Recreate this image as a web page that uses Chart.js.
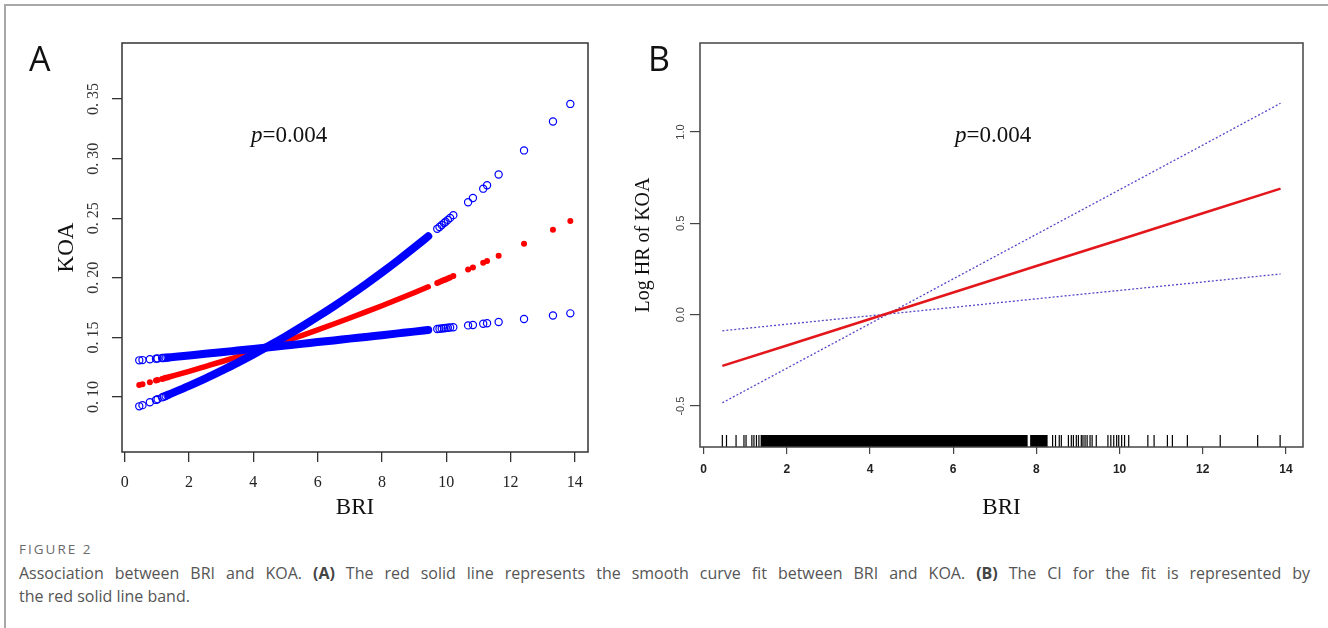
<!DOCTYPE html>
<html>
<head>
<meta charset="utf-8">
<script src="https://cdn.jsdelivr.net/npm/chart.js@4/dist/chart.umd.min.js"></script>
<style>
html,body{margin:0;padding:0;background:#fff;}
#page{position:relative;width:1328px;height:628px;overflow:hidden;background:#fff;}
#frame{position:absolute;left:4px;top:4px;width:1340px;height:640px;border-top:2px solid #a8a8a8;border-left:2px solid #a8a8a8;}
#wrapA{position:absolute;left:0;top:0;width:620px;height:530px;}
#wrapB{position:absolute;left:620px;top:0;width:708px;height:530px;}
#fig{position:absolute;left:19px;top:541px;font-family:"Open Sans";font-size:13.5px;line-height:16px;letter-spacing:2px;color:#6a6a6a;white-space:nowrap;}
.txt{position:absolute;left:19px;font-family:"Open Sans";font-size:16px;line-height:23px;color:#555;white-space:nowrap;}
#l1{top:562px;width:1291px;text-align:justify;text-align-last:justify;white-space:normal;}
#l2{top:585px;}
.txt b{color:#444;}
</style>
</head>
<body>
<div id="page">
  <div id="frame"></div>
  <div id="wrapA"><canvas id="cA" width="620" height="530"></canvas></div>
  <div id="wrapB"><canvas id="cB" width="708" height="530"></canvas></div>
  <div id="fig">FIGURE 2</div>
  <div class="txt" id="l1">Association between BRI and KOA. <b>(A)</b> The red solid line represents the smooth curve fit between BRI and KOA. <b>(B)</b> The CI for the fit is represented by</div>
  <div class="txt" id="l2">the red solid line band.</div>
</div>
<script>
// ---------------- data ----------------
// BRI values of the sparse observations
const briLow  = [0.45, 0.55, 0.78, 0.97, 1.02, 1.16, 1.21, 1.27, 1.33];
const briMid  = [8.39, 8.46, 8.55, 8.60, 8.77, 8.84, 8.89, 8.96, 9.01, 9.08, 9.12, 9.17, 9.22, 9.29, 9.34, 9.44];
const briHigh = [9.72, 9.79, 9.86, 9.93, 9.98, 10.05, 10.12, 10.22, 10.68, 10.83, 11.15, 11.27, 11.63, 12.42, 13.32, 13.86];
// BRI positions along the dense band of observations (panel A)
const briBand = [1.37, 2, 2.5, 3, 3.5, 4, 4.5, 5, 5.5, 6, 6.5, 7, 7.5, 8, 8.5, 9, 9.44];

// Panel A: fitted KOA probability and its upper / lower bounds
const koaFitLow  = [0.1100, 0.1107, 0.1124, 0.1138, 0.1142, 0.1152, 0.1156, 0.1161, 0.1165];
const koaFitBand = [0.1168, 0.1216, 0.1256, 0.1296, 0.1338, 0.1381, 0.1425, 0.1470, 0.1516, 0.1564, 0.1613, 0.1663, 0.1714, 0.1766, 0.1820, 0.1875, 0.1925];
const koaFitHigh = [0.1957, 0.1965, 0.1973, 0.1981, 0.1987, 0.1995, 0.2003, 0.2015, 0.2069, 0.2087, 0.2126, 0.2141, 0.2186, 0.2286, 0.2403, 0.2476];

const koaUpLow  = [0.0922, 0.0932, 0.0956, 0.0976, 0.0982, 0.0997, 0.1003, 0.1009, 0.1016];
const koaUpBand = [0.1021, 0.1094, 0.1155, 0.1220, 0.1287, 0.1358, 0.1432, 0.1509, 0.1590, 0.1674, 0.1761, 0.1852, 0.1947, 0.2045, 0.2147, 0.2253, 0.2349];
const koaUpHigh = [0.2411, 0.2427, 0.2443, 0.2459, 0.2470, 0.2486, 0.2503, 0.2526, 0.2634, 0.2670, 0.2748, 0.2777, 0.2867, 0.3069, 0.3311, 0.3459];

const koaLoLow  = [0.1308, 0.1310, 0.1317, 0.1322, 0.1323, 0.1327, 0.1328, 0.1330, 0.1331];
const koaLoBand = [0.1332, 0.1349, 0.1363, 0.1376, 0.1390, 0.1404, 0.1418, 0.1432, 0.1446, 0.1461, 0.1475, 0.1490, 0.1504, 0.1519, 0.1534, 0.1549, 0.1562];
const koaLoHigh = [0.1571, 0.1573, 0.1575, 0.1577, 0.1579, 0.1581, 0.1583, 0.1586, 0.1601, 0.1605, 0.1615, 0.1619, 0.1630, 0.1655, 0.1684, 0.1702];

// Panel B: log HR fit and CI
const briLine    = [0.45, 2, 4, 6, 8, 10, 12, 13.87];
const logHR      = [-0.280, -0.168, -0.024, 0.121, 0.266, 0.410, 0.555, 0.690];
const logHRUpper = [-0.482, -0.293, -0.049, 0.196, 0.440, 0.684, 0.928, 1.157];
const logHRLower = [-0.088, -0.052, -0.006, 0.040, 0.087, 0.133, 0.179, 0.223];

// Rug: solid stretches of BRI observations
const rugBlocks = [[1.37, 7.79], [7.85, 8.27]];

// tick labels
const xTicks  = [0, 2, 4, 6, 8, 10, 12, 14];
const yTicksA = [0.10, 0.15, 0.20, 0.25, 0.30, 0.35];
const yTicksB = [-0.5, 0.0, 0.5, 1.0];

// ---------------- chart setup ----------------
const xRange  = [-0.087, 14.41];
const yRangeA = [0.0539, 0.397];
const yRangeB = [-0.724, 1.487];
const BLUE = '#0000ff', RED = '#ff0000';
const SERIF = 'Liberation Serif';

function pts(xs, ys) { return xs.map((x, i) => ({x: x, y: ys[i]})); }

const boxPlugin = {
  id: 'box',
  afterDraw(chart, args, opts) {
    const {ctx, chartArea: a} = chart;
    ctx.save();
    ctx.strokeStyle = opts.color;
    ctx.lineWidth = opts.width;
    ctx.strokeRect(a.left, a.top, a.right - a.left, a.bottom - a.top);
    ctx.restore();
  }
};

const textPlugin = {
  id: 'texts',
  afterDraw(chart, args, opts) {
    const ctx = chart.ctx;
    ctx.save();
    ctx.textBaseline = 'alphabetic';
    ctx.textAlign = 'left';
    for (const item of opts.items) {
      let x = item.x;
      for (const r of item.runs) {
        ctx.font = r.font;
        ctx.fillStyle = r.color || '#111';
        ctx.fillText(r.text, x, item.y);
        x += ctx.measureText(r.text).width;
      }
    }
    ctx.restore();
  }
};

function setTicks(list) { return s => { s.ticks = list.map(v => ({value: v})); }; }

// ---------- Panel A ----------
new Chart(document.getElementById('cA'), {
  type: 'scatter',
  data: {
    datasets: [
      // upper blue
      {type: 'line', data: pts(briBand, koaUpBand), borderColor: BLUE, borderWidth: 8, pointRadius: 0,
       borderCapStyle: 'round', cubicInterpolationMode: 'monotone'},
      {data: pts(briLow.concat(briHigh), koaUpLow.concat(koaUpHigh)), pointRadius: 3.6, pointBorderWidth: 1.2,
       pointBorderColor: BLUE, pointBackgroundColor: 'rgba(0,0,0,0)', showLine: false},
      // lower blue
      {type: 'line', data: pts(briBand, koaLoBand), borderColor: BLUE, borderWidth: 8, pointRadius: 0,
       borderCapStyle: 'round', cubicInterpolationMode: 'monotone'},
      {data: pts(briLow.concat(briHigh), koaLoLow.concat(koaLoHigh)), pointRadius: 3.6, pointBorderWidth: 1.2,
       pointBorderColor: BLUE, pointBackgroundColor: 'rgba(0,0,0,0)', showLine: false},
      // red fit
      {type: 'line', data: pts(briBand, koaFitBand), borderColor: RED, borderWidth: 5.5, pointRadius: 0,
       borderCapStyle: 'round', cubicInterpolationMode: 'monotone'},
      {data: pts(briLow.concat(briHigh), koaFitLow.concat(koaFitHigh)), pointRadius: 3, pointBorderWidth: 0,
       pointBackgroundColor: RED, showLine: false}
    ]
  },
  options: {
    responsive: false, animation: false, events: [],
    layout: {padding: {left: 0, top: 43, right: 32, bottom: 0}},
    plugins: {
      legend: {display: false}, tooltip: {enabled: false},
      box: {color: '#333', width: 1.5},
      texts: {items: [
        {x: 29, y: 71, runs: [{text: 'A', font: '34px "Open Sans"', color: '#111'}]},
        {x: 251, y: 142, runs: [{text: 'p', font: 'italic 23px "' + SERIF + '"'}, {text: '=0.004', font: '23px "' + SERIF + '"'}]}
      ]}
    },
    scales: {
      x: {
        type: 'linear', min: xRange[0], max: xRange[1],
        afterBuildTicks: setTicks(xTicks),
        afterFit: s => { s.height = 78; },
        border: {display: false},
        grid: {drawOnChartArea: false, drawTicks: true, tickLength: 10, color: '#333', lineWidth: 1.3},
        ticks: {autoSkip: false, maxRotation: 0, minRotation: 0, padding: 11, color: '#222',
                font: {family: SERIF, size: 16}, callback: v => String(v)},
        title: {display: true, text: 'BRI', color: '#111', font: {family: SERIF, size: 23}, padding: {top: 0, bottom: 8}}
      },
      y: {
        type: 'linear', min: yRangeA[0], max: yRangeA[1],
        afterBuildTicks: setTicks(yTicksA),
        afterFit: s => { s.width = 122; },
        border: {display: false},
        grid: {drawOnChartArea: false, drawTicks: true, tickLength: 10, color: '#333', lineWidth: 1.3},
        ticks: {autoSkip: false, minRotation: 90, maxRotation: 90, crossAlign: 'center', padding: 2, color: '#333',
                font: {family: SERIF, size: 16}, callback: v => v.toFixed(2).replace('.', '. ')},
        title: {display: true, text: 'KOA', color: '#111', font: {family: SERIF, size: 23}, padding: {top: 53, bottom: 0}}
      }
    }
  },
  plugins: [boxPlugin, textPlugin]
});

// ---------- Panel B ----------
const rugY = yRangeB[0] + 0.033;
const rugDatasets = rugBlocks.map(b => ({
  type: 'line', data: [{x: b[0], y: rugY}, {x: b[1], y: rugY}], borderColor: '#000', borderWidth: 12,
  borderCapStyle: 'butt', pointRadius: 0
}));

new Chart(document.getElementById('cB'), {
  type: 'scatter',
  data: {
    datasets: [
      {type: 'line', data: pts(briLine, logHR), borderColor: '#e3161c', borderWidth: 2.6, pointRadius: 0},
      {type: 'line', data: pts(briLine, logHRUpper), borderColor: '#5548c8', borderWidth: 1.3, borderDash: [2, 2], pointRadius: 0},
      {type: 'line', data: pts(briLine, logHRLower), borderColor: '#5548c8', borderWidth: 1.3, borderDash: [2, 2], pointRadius: 0},
      {data: briLow.concat(briMid, briHigh).map(x => ({x: x, y: rugY})), pointStyle: 'line', rotation: 90,
       pointRadius: 6, pointBorderWidth: 1.2, pointBorderColor: '#000', showLine: false},
      ...rugDatasets
    ]
  },
  options: {
    responsive: false, animation: false, events: [],
    layout: {padding: {left: 0, top: 43, right: 25, bottom: 0}},
    plugins: {
      legend: {display: false}, tooltip: {enabled: false},
      box: {color: '#444', width: 1.5},
      texts: {items: [
        {x: 28, y: 71, runs: [{text: 'B', font: '34px "Open Sans"', color: '#111'}]},
        {x: 335, y: 142, runs: [{text: 'p', font: 'italic 23px "' + SERIF + '"'}, {text: '=0.004', font: '23px "' + SERIF + '"'}]}
      ]}
    },
    scales: {
      x: {
        type: 'linear', min: xRange[0], max: xRange[1],
        afterBuildTicks: setTicks(xTicks),
        afterFit: s => { s.height = 83; },
        border: {display: false},
        grid: {drawOnChartArea: false, drawTicks: true, tickLength: 7, color: '#444', lineWidth: 1.2},
        ticks: {autoSkip: false, maxRotation: 0, minRotation: 0, padding: 8, color: '#222',
                font: {family: 'Liberation Sans', size: 12, weight: 'bold'}, callback: v => String(v)},
        title: {display: true, text: 'BRI', color: '#111', font: {family: SERIF, size: 23}, padding: {top: 0, bottom: 8}}
      },
      y: {
        type: 'linear', min: yRangeB[0], max: yRangeB[1],
        afterBuildTicks: setTicks(yTicksB),
        afterFit: s => { s.width = 80; },
        border: {display: false},
        grid: {drawOnChartArea: false, drawTicks: true, tickLength: 10, color: '#444', lineWidth: 1.2},
        ticks: {autoSkip: false, minRotation: 90, maxRotation: 90, crossAlign: 'center', padding: 0, color: '#444',
                font: {family: 'Liberation Sans', size: 11}, callback: v => v.toFixed(1)},
        title: {display: true, text: 'Log HR of KOA', color: '#111', font: {family: SERIF, size: 20}, padding: {top: 12, bottom: 0}}
      }
    }
  },
  plugins: [boxPlugin, textPlugin]
});
</script>
</body>
</html>
